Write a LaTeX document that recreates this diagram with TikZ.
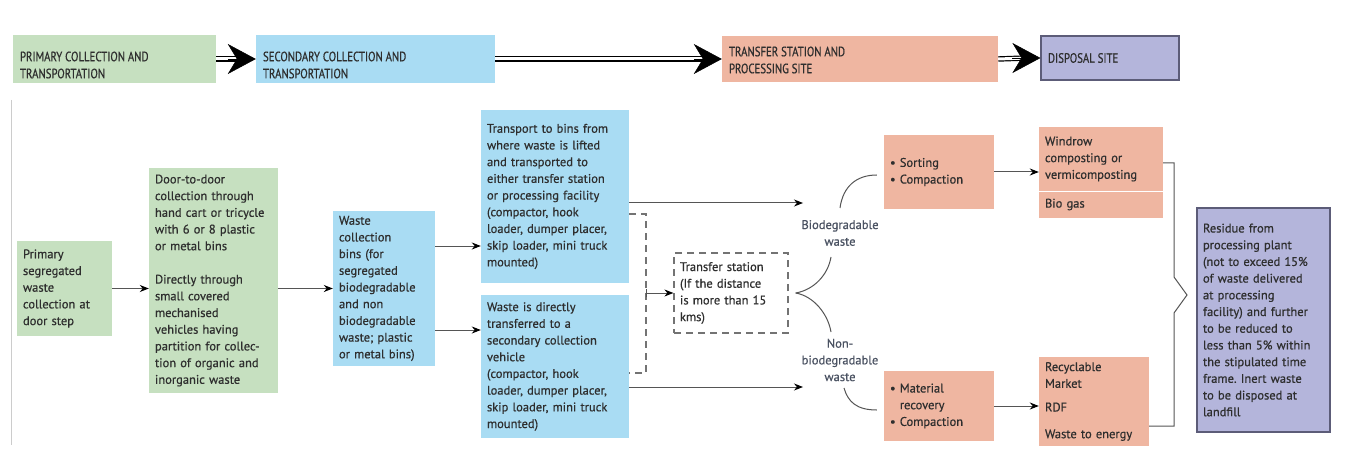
\documentclass[tikz,border=0pt]{standalone}
\usepackage{fontspec}
\setmainfont{PT Sans}[FakeBold=0.6]
\newfontfamily\hdfont{PT Sans}[FakeStretch=0.8,FakeBold=0.6]
\usetikzlibrary{arrows.meta,calc}
\definecolor{cgreen}{HTML}{C6E0C0}
\definecolor{cblue}{HTML}{A9DCF3}
\definecolor{csalmon}{HTML}{EFB6A1}
\definecolor{cpurple}{HTML}{B4B5DB}
\definecolor{cborder}{HTML}{5C5C78}
\definecolor{ctext}{HTML}{2E2E2E}
\definecolor{clabel}{HTML}{4A5262}
\definecolor{cline}{HTML}{555555}
\newcommand{\hdtxt}[3]{\raisebox{-#1}[\height][\depth]{\parbox{#2}{\raggedright #3}}}
\frenchspacing
\begin{document}
\begin{tikzpicture}[x=1pt,y=-1pt,
 bx/.style={inner xsep=6pt, inner ysep=3pt, align=left, text=ctext, font=\fontsize{12.5}{16.7}\selectfont},
 hd/.style={inner xsep=7pt, inner ysep=0pt, text=ctext, font=\hdfont\fontsize{13.5}{17}\selectfont, minimum height=48pt},
 conn/.style={draw=cline, line width=1pt, -{Stealth[length=9pt,width=7pt,black]}},
 dbl/.style={draw=black, double=white, double distance=3pt, line width=1.2pt},
 bigtip/.style={-{Stealth[length=28pt,width=30pt,inset=9pt]}, line width=0.5pt},
 dsh/.style={draw=gray!90!black, line width=1.2pt, dash pattern=on 7pt off 5pt},
 lbl/.style={text=clabel, align=center, inner sep=1pt, font=\fontsize{12.5}{16.7}\selectfont},
 crv/.style={draw=cline, line width=1pt}
]
\useasboundingbox[fill=white] (0,0) rectangle (1346,449);
\draw[gray!40, line width=0.8pt] (11,100) -- (11,445);

% top row
\node[hd, fill=cgreen, minimum width=203pt] (t1) at (114.5,59) {\hdtxt{6pt}{189pt}{PRIMARY COLLECTION AND\\TRANSPORTATION}};
\node[hd, fill=cblue, minimum width=239pt] (t2) at (375.5,59) {\hdtxt{6pt}{225pt}{SECONDARY COLLECTION AND\\TRANSPORTATION}};
\node[hd, fill=csalmon, minimum width=276pt, minimum height=46pt] (t3) at (860,59) {\hdtxt{1pt}{262pt}{TRANSFER STATION AND\\PROCESSING SITE}};
\node[hd, fill=cpurple, draw=cborder, line width=1.2pt, minimum width=138pt, minimum height=44pt] (t4) at (1110,58) {\hdtxt{0pt}{124pt}{DISPOSAL SITE}};

\draw[dbl] (t1.east) -- ($(t2.west)+(-14,0)$);
\draw[bigtip] ($(t2.west)+(-28,0)$) -- (t2.west);
\draw[dbl] (t2.east) -- ($(t3.west)+(-14,0)$);
\draw[bigtip] ($(t3.west)+(-28,0)$) -- (t3.west);
\draw[dbl] (t3.east) -- ($(t4.west)+(-14,0)$);
\draw[bigtip] ($(t4.west)+(-28,0)$) -- (t4.west);

% bottom
\node[bx, fill=cgreen, minimum height=95pt, text width=83pt] (A) at (64.5,288.5) {Primary\\segregated\\waste\\collection at\\door step};
\node[bx, fill=cgreen, minimum height=225pt, text width=117pt] (B) at (213.5,280.5) {Door-to-door\\collection through\\hand cart or tricycle\\with 6 or 8 plastic\\or metal bins\\[16.7pt]Directly through\\small covered\\mechanised\\vehicles having\\partition for collec-\\tion of organic and\\inorganic waste};
\node[bx, fill=cblue, minimum height=155pt, text width=90pt] (C) at (384,288.5) {Waste\\collection\\bins (for\\segregated\\biodegradable\\and non\\biodegradable\\waste; plastic\\or metal bins)};
\node[bx, fill=cblue, minimum height=173pt, text width=136pt] (D) at (555,196.5) {Transport to bins from\\where waste is lifted\\and transported to\\either transfer station\\or processing facility\\(compactor, hook\\loader, dumper placer,\\skip loader, mini truck\\mounted)};
\node[bx, fill=cblue, minimum height=143pt, text width=136pt] (E) at (555,366.5) {Waste is directly\\transferred to a\\secondary collection\\vehicle\\(compactor, hook\\loader, dumper placer,\\skip loader, mini truck\\mounted)};
\node[bx, dsh, minimum height=80pt, text width=102pt] (tr) at (731,293) {Transfer station\\(If the distance\\is more than 15\\kms)};

\node[lbl] (bio) at (840,233) {Biodegradable\\waste};
\node[lbl] (nbio) at (840,360) {Non-\\biodegradable\\waste};

\node[bx, fill=csalmon, minimum height=74pt, text width=98pt] (S) at (939,172) {\textbullet\ Sorting\\\textbullet\ Compaction};
\node[bx, fill=csalmon, minimum height=70pt, text width=98pt] (M) at (939,406) {\textbullet\ Material\\\hphantom{\textbullet\ }recovery\\\textbullet\ Compaction};

\node[bx, fill=csalmon, minimum height=64pt, text width=112pt] (W1) at (1101,159) {Windrow\\composting or\\vermicomposting};
\node[bx, fill=csalmon, minimum height=27pt, text width=112pt] (W2) at (1101,204.5) {Bio gas};
\draw[white, line width=1pt] (W1.south west) -- (W1.south east);
\node[bx, fill=csalmon, minimum height=89pt, text width=98pt] (R) at (1094,401.5) {Recyclable\\Market\\[7pt]RDF\\[10pt]Waste to energy};

\node[bx, fill=cpurple, draw=cborder, line width=1.2pt, minimum height=224pt, text width=121pt] (P) at (1263.5,320) {Residue from\\processing plant\\(not to exceed 15\%\\of waste delivered\\at processing\\facility) and further\\to be reduced to\\less than 5\% within\\the stipulated time\\frame. Inert waste\\to be disposed at\\landfill};

% connectors
\draw[conn] (A.east) -- (A.east -| B.west);
\draw[conn] (B.east |- A.east) -- (A.east -| C.west);
\coordinate (c1) at ($(C.east)+(0,-42.5)$);
\coordinate (c2) at ($(C.east)+(0,41.5)$);
\draw[conn] (c1) -- (c1 -| D.west);
\draw[conn] (c2) -- (c2 -| E.west);
\coordinate (d1) at ($(D.east)+(0,6.5)$);
\coordinate (e1) at ($(E.east)+(0,20.5)$);
\coordinate (bioin) at (803,203);
\coordinate (nbioin) at (803,387);
\draw[conn] (d1) -- (bioin);
\draw[conn] (e1) -- (nbioin);

\coordinate (b1) at (629,214);
\coordinate (b2) at (646,214);
\coordinate (b3) at (646,373);
\coordinate (b4) at (629,373);
\draw[dsh] (b1) -- (b2) -- (b3) -- (b4);
\coordinate (bm) at (646,293);
\draw[draw=cline, line width=1pt, {Bar[width=8pt]}-{Stealth[length=9pt,width=7pt,black]}] (bm) -- (tr.west);

\coordinate (tp) at ($(tr.east)+(7,0)$);
\draw[crv] (tp) .. controls +(18,-3) and +(-3,18) .. (831,257);
\draw[crv] (tp) .. controls +(18,3) and +(-3,-18) .. (831,332);
\draw[crv] (840,208) .. controls +(3,-22) and +(-20,0) .. ($(S.west)+(-7,3)$);
\draw[crv] (844,388) .. controls +(4,14) and +(-20,0) .. ($(M.west)+(-7,4)$);

\draw[conn] (S.east) -- (S.east -| W1.west);
\draw[conn] (M.east) -- (M.east -| R.west);

\draw[crv] ($(W1.east)+(0,4)$) -- (1174,163) -- (1174,277) -- (1187,295) -- (1174,313) -- (1174,426) -- ($(R.east)+(0,24.5)$);
\end{tikzpicture}
\end{document}
